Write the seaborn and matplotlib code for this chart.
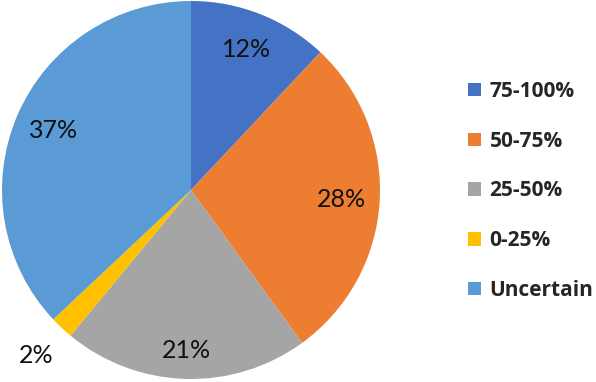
import matplotlib
matplotlib.use("Agg")
import matplotlib.pyplot as plt
import seaborn as sns
import numpy as np

categories = ["75-100%", "50-75%", "25-50%", "0-25%", "Uncertain"]
values = [12, 28, 21, 2, 37]
pct_labels = ["12%", "28%", "21%", "2%", "37%"]
colors = ["#4472C4", "#ED7D31", "#A5A5A5", "#FFC000", "#5B9BD5"]

sns.set_theme(style="white")
plt.rcParams['font.family'] = ['Lato', 'DejaVu Sans']

W, H = 596, 382
fig = plt.figure(figsize=(W / 100, H / 100), dpi=100)
fig.patch.set_facecolor("white")

R = 189
cx, cy = 191, 190
ax = fig.add_axes([(cx - R) / W, (H - cy - R) / H, 2 * R / W, 2 * R / H])

palette = sns.color_palette(colors)
wedges, _ = ax.pie(values, colors=palette, startangle=90, counterclock=False,
                   radius=1, wedgeprops=dict(linewidth=0))
ax.set_xlim(-1, 1)
ax.set_ylim(-1, 1)
ax.set_aspect("equal")
ax.axis("off")

label_dist = [0.80, 0.80, 0.85, 1.20, 0.79]
for w, lab, d in zip(wedges, pct_labels, label_dist):
    th = np.deg2rad((w.theta1 + w.theta2) / 2)
    ax.text(d * np.cos(th), d * np.sin(th), lab, ha="center", va="center",
            fontsize=18, color="#111111", clip_on=False)

handles = [plt.Rectangle((0, 0), 1, 1, facecolor=c, edgecolor="none") for c in palette]
leg = fig.legend(handles, categories, loc="center left",
                 bbox_to_anchor=(468 / W, 1 - 191 / H), frameon=False,
                 borderaxespad=0, borderpad=0, labelspacing=1.38,
                 handlelength=0.62, handleheight=0.62, handletextpad=0.42,
                 prop=dict(family=['Open Sans', 'DejaVu Sans'], weight="bold", size=15))

fig.savefig("out.png", dpi=100, facecolor="white")
